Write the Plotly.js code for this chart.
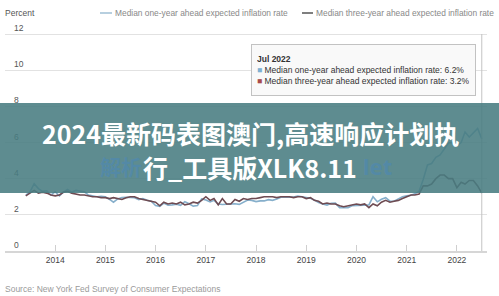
<!DOCTYPE html>
<html><head><meta charset="utf-8">
<script src="https://cdn.plot.ly/plotly-3.0.1.min.js"></script>
<style>html,body{margin:0;padding:0;background:#fff}#chart{width:499px;height:296px}</style>
</head><body><div id="chart"></div>
<script>
// ---- data ----
const firstMonth = [2013, 6];   // survey starts June 2013, monthly
const oneYear = [
  3.09, 3.25, 3.72, 3.45, 3.30, 3.33, 3.10,
  3.27, 3.05, 3.25, 3.41, 3.26, 3.35, 3.31, 3.27, 3.09, 3.05, 3.00, 3.02,
  3.00, 2.85, 2.70, 2.88, 2.95, 2.97, 2.98, 2.95, 2.84, 2.90, 2.81, 2.75,
  2.51, 2.47, 2.65, 2.53, 2.55, 2.59, 2.53, 2.73, 2.61, 2.48, 2.51, 2.88,
  2.82, 2.71, 2.80, 2.60, 2.57, 2.58, 2.61, 2.61, 2.58, 2.72, 2.82, 2.80,
  2.73, 2.77, 2.77, 2.84, 2.80, 2.88, 2.97, 2.99, 2.98, 2.98, 3.04, 3.00,
  2.99, 2.92, 2.82, 2.68, 2.60, 2.54, 2.64, 2.65, 2.40, 2.41, 2.40, 2.50,
  2.51, 2.51, 2.50, 2.55, 3.00, 2.72, 2.86, 2.95, 2.76, 2.75, 2.88, 3.00,
  3.05, 3.08, 3.16, 3.30, 3.96, 4.76, 4.84, 5.18, 5.31, 5.66, 5.97, 6.00,
  5.81, 6.00, 6.58, 6.30, 6.56, 6.78, 6.20
];
const threeYear = [
  3.05, 3.20, 3.35, 3.20, 3.25, 3.20, 3.10,
  3.05, 3.10, 3.25, 3.30, 3.20, 3.15, 3.10, 3.10, 3.05, 3.00, 3.00, 2.95,
  2.95, 2.90, 2.95, 2.90, 2.85, 2.95, 3.00, 3.00, 2.90, 2.85, 2.80, 2.75,
  2.70, 2.50, 2.70, 2.60, 2.65, 2.60, 2.70, 2.55, 2.60, 2.70, 2.65, 2.80,
  3.00, 2.80, 2.90, 2.55, 2.90, 2.60, 2.60, 2.85, 2.75, 2.90, 2.85, 2.90,
  2.90, 2.95, 3.00, 3.00, 3.00, 2.95, 3.00, 3.00, 3.00, 2.95, 3.00, 3.00,
  2.90, 2.95, 2.80, 2.75, 2.60, 2.65, 2.60, 2.60, 2.50, 2.45, 2.50, 2.55,
  2.60, 2.55, 2.60, 2.40, 2.60, 2.50, 2.70, 2.80, 2.70, 2.75, 2.80, 2.90,
  3.00, 3.10, 3.10, 3.15, 3.60, 3.60, 3.70, 4.00, 4.20, 4.20, 4.00, 4.00,
  3.50, 3.80, 3.70, 3.90, 3.90, 3.60, 3.20
];
const seriesNames = ['Median one-year ahead expected inflation rate',
                     'Median three-year ahead expected inflation rate'];
const yTicks = [0, 2, 4, 6, 8, 10, 12];
const xTickYears = [2014, 2015, 2016, 2017, 2018, 2019, 2020, 2021, 2022];
const hoverLabel = 'Jul 2022';
const yAxisLabel = 'Percent';
const sourceText = 'Source: New York Fed Survey of Consumer Expectations';
const bannerLine1 = '2024最新码表图澳门,高速响应计划执';
const bannerLine2 = '行_工具版XLK8.11';
const ghostLeft = '解析';
const ghostRight = 'let';

// ---- build ----
const dates = oneYear.map((_, i) => {
  const m = firstMonth[1] - 1 + i;
  const y = firstMonth[0] + Math.floor(m / 12);
  const mm = String(m % 12 + 1).padStart(2, '0');
  return y + '-' + mm + '-01';
});
const lastDate = dates[dates.length - 1];

const C1 = '#86afcb', C2 = '#6e4b52';
const W = 499, H = 296, L = 5, R = 12, T = 20, B = 45;
const pw = W - L - R, ph = H - T - B;
const unit = 217 / 12;               // px per percent
const yTop = ph / unit;              // extra headroom so the "12" label shows
const px = x => (x - L) / pw;
const py = y => (H - B - y) / ph;
const FONT = 'Liberation Sans, Arial, sans-serif';

const traces = [
  {x: dates, y: oneYear, name: seriesNames[0], type: 'scatter', mode: 'lines',
   line: {color: C1, width: 1.6}},
  {x: dates, y: threeYear, name: seriesNames[1], type: 'scatter', mode: 'lines',
   line: {color: C2, width: 1.6}}
];

const tip = '<b>' + hoverLabel + '</b><br>' +
  '<span style="color:#7fb0d2">■</span> ' + seriesNames[0] + ': ' + oneYear[oneYear.length-1].toFixed(1) + '%<br>' +
  '<span style="color:#a84a4a">■</span> ' + seriesNames[1] + ': ' + threeYear[threeYear.length-1].toFixed(1) + '%';

const layout = {
  width: W, height: H,
  margin: {l: L, r: R, t: T, b: B, pad: 0},
  paper_bgcolor: '#fff', plot_bgcolor: '#fff',
  showlegend: false,
  font: {family: FONT, size: 8.5, color: '#555'},
  xaxis: {
    type: 'date', range: ['2013-01-01', '2022-08-08'],
    tickvals: xTickYears.map(y => y + '-01-01'), ticktext: xTickYears.map(String),
    ticks: 'inside', ticklen: 6, tickcolor: '#cfcfcf', tickwidth: 1,
    showgrid: false, showline: true, linecolor: '#d6d6d6', linewidth: 1.5,
    tickfont: {family: FONT, size: 8.5, color: '#444'}, zeroline: false
  },
  yaxis: {
    range: [0, yTop], tickvals: yTicks, ticktext: yTicks.map(String),
    showgrid: true, gridcolor: '#e2e2e2', gridwidth: 1, zeroline: false, showline: false,
    ticklabelposition: 'inside top', ticklabelstandoff: 6, ticks: '',
    tickfont: {family: FONT, size: 8.5, color: '#555'}
  },
  shapes: [
    {type: 'line', xref: 'x', yref: 'y', x0: lastDate, x1: lastDate, y0: 0, y1: yTicks[yTicks.length-1],
     line: {color: '#c4c4c4', width: 1}},
    {type: 'line', xref: 'paper', yref: 'paper', x0: px(100), x1: px(112), y0: py(13), y1: py(13),
     line: {color: '#9fbfd4', width: 1.5}},
    {type: 'line', xref: 'paper', yref: 'paper', x0: px(302), x1: px(313), y0: py(13), y1: py(13),
     line: {color: '#555', width: 1.5}},
    {type: 'rect', xref: 'paper', yref: 'paper', layer: 'above',
     x0: px(0), x1: px(W), y0: py(193), y1: py(103),
     fillcolor: 'rgba(72,124,129,0.88)', line: {width: 0}}
  ],
  annotations: [
    {xref: 'paper', yref: 'paper', x: px(3), y: py(13), xanchor: 'left', yanchor: 'middle',
     text: yAxisLabel, showarrow: false, font: {family: FONT, size: 8.5, color: '#555'}},
    {xref: 'paper', yref: 'paper', x: px(113), y: py(13), xanchor: 'left', yanchor: 'middle',
     text: seriesNames[0], showarrow: false, font: {family: FONT, size: 8.4, color: '#888'}},
    {xref: 'paper', yref: 'paper', x: px(314), y: py(13), xanchor: 'left', yanchor: 'middle',
     text: seriesNames[1], showarrow: false, font: {family: FONT, size: 8.4, color: '#888'}},
    {xref: 'paper', yref: 'paper', x: px(251), y: py(44), xanchor: 'left', yanchor: 'top',
     text: tip, align: 'left', valign: 'middle', height: 40, showarrow: false,
     bgcolor: '#f9f9f9', bordercolor: '#c2c2c2',
     borderwidth: 1, borderpad: 5, font: {family: FONT, size: 8.5, color: '#333'}},
    {xref: 'paper', yref: 'paper', x: px(3), y: py(289), xanchor: 'left', yanchor: 'middle',
     text: sourceText, showarrow: false, font: {family: FONT, size: 8.5, color: '#9a9a9a'}},
    {xref: 'paper', yref: 'paper', x: px(121), y: py(166), xanchor: 'center', yanchor: 'middle',
     text: ghostLeft, showarrow: false,
     font: {family: 'Noto Sans CJK SC', size: 21, color: 'rgba(70,135,195,0.45)', weight: 700}},
    {xref: 'paper', yref: 'paper', x: px(377), y: py(166), xanchor: 'center', yanchor: 'middle',
     text: ghostRight, showarrow: false,
     font: {family: 'Noto Sans', size: 22, color: 'rgba(70,135,195,0.45)', weight: 700}},
    {xref: 'paper', yref: 'paper', x: px(250), y: py(133), xanchor: 'center', yanchor: 'middle',
     text: '<b>' + bannerLine1 + '</b>', showarrow: false,
     font: {family: 'Noto Sans CJK SC', size: 25, color: '#ffffff'}},
    {xref: 'paper', yref: 'paper', x: px(250), y: py(167), xanchor: 'center', yanchor: 'middle',
     text: '<b>' + bannerLine2 + '</b>', showarrow: false,
     font: {family: 'Noto Sans CJK SC', size: 25, color: '#ffffff'}}
  ]
};

Plotly.newPlot('chart', traces, layout, {staticPlot: true, displayModeBar: false});
</script>
</body></html>
